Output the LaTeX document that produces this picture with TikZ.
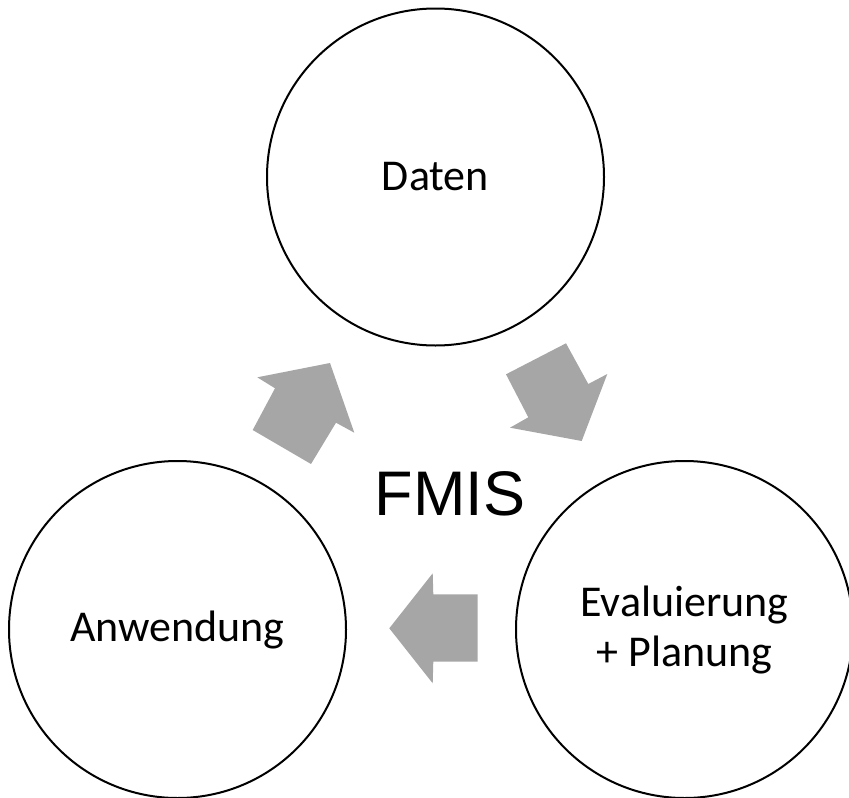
\documentclass[tikz,border=0pt]{standalone}
\usepackage{fontspec}
\setmainfont{Carlito}
\newfontfamily\arialfont{Liberation Sans}
\definecolor{arrowgray}{HTML}{A6A6A6}
\begin{document}
\begin{tikzpicture}[x=1pt,y=-1pt,
  cyclenode/.style={circle,draw=black,line width=2pt,minimum size=337pt,inner sep=0pt,
    align=center,font=\fontsize{44}{50}\selectfont},
  blockarrow/.style={fill=arrowgray,draw=none}]
\useasboundingbox (0,0) rectangle (849,798);
\clip (0,0) rectangle (849,798);
\node[cyclenode] (daten) at (435.5,177) {Daten};
\node[cyclenode] (anw) at (177.5,629.5) {Anwendung};
\node[cyclenode] (eval) at (684.5,629.5) {Evaluierung\\+ Planung};
\node[font=\arialfont\fontsize{63}{70}\selectfont,inner sep=0pt] (fmis) at (450,494) {FMIS};
% block arrows
\fill[blockarrow] (330,363) -- (354.3,432.7) -- (336,422.7) -- (311,464) -- (252.7,430) -- (275,388.3) -- (257.3,377.3) -- cycle;
\fill[blockarrow] (566,343.3) -- (506,374.3) -- (528.3,417.3) -- (510,427.7) -- (581.7,441) -- (607.3,374) -- (588.3,384) -- cycle;
\fill[blockarrow] (389.3,628.3) -- (432.7,573.3) -- (433.3,594.3) -- (477.7,594.3) -- (477.7,661.7) -- (433.3,661.7) -- (432.7,683.3) -- cycle;
\end{tikzpicture}
\end{document}
